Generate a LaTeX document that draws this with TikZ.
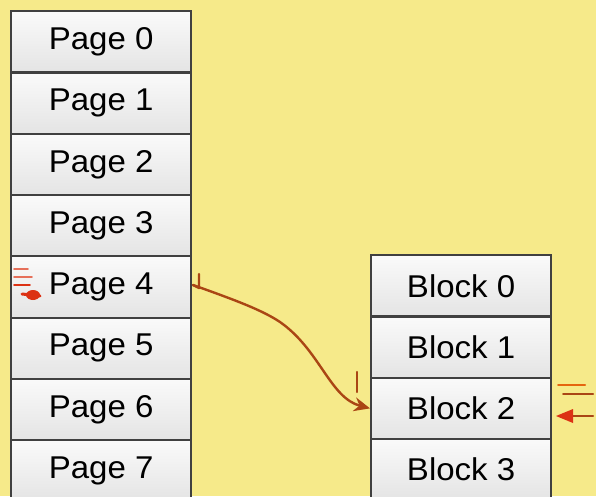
\documentclass[tikz,border=0pt]{standalone}
\usepackage{fontspec}
\setmainfont{Liberation Sans}
\usetikzlibrary{arrows.meta}
\definecolor{bgyellow}{RGB}{246,234,138}
\definecolor{celltop}{RGB}{250,250,250}
\definecolor{cellbot}{RGB}{228,228,228}
\definecolor{scribble}{RGB}{220,50,20}
\definecolor{scribdark}{RGB}{170,70,20}
\tikzset{
  cell/.style={draw=black!75, line width=2.2pt, top color=celltop, bottom color=cellbot, minimum width=180pt, minimum height=61.3pt, inner sep=0pt, anchor=north west,
    font=\fontsize{30}{30}\selectfont},
  pen/.style={draw=scribdark, line width=2.4pt, line cap=round, line join=round},
  redpen/.style={draw=scribble, line width=2.2pt, line cap=round}
}
\begin{document}
\begin{tikzpicture}[x=1pt,y=-1pt]
\useasboundingbox (0,0) rectangle (596,496);
\fill[bgyellow] (0,0) rectangle (596,496);
\foreach \i in {0,...,7}{
  \node[cell] (p\i) at (10,{10+61.3*\i}) {\scalebox{1.1}[1.05]{Page \i}};
}
\foreach \i in {0,...,3}{
  \node[cell] (b\i) at (370,{254+61.3*\i}) {\scalebox{1.1}[1.05]{Block \i}};
}
% scribbles near Page 4
\draw[redpen, line width=1.6pt, draw=scribble!70] (14,269) -- (28,269);
\draw[redpen, line width=1.6pt, draw=scribble!70] (14,277) -- (32,277);
\draw[redpen, line width=1.6pt] (14,285) -- (30,285);
\fill[scribble] (33,295) ellipse (7pt and 5pt);
\draw[redpen, line width=3pt] (22,294) -- (40,296);
% arrow from Page 4 to Block 2
\draw[pen] (199,274) -- (199,288) -- (193,285);
\draw[pen, -{Stealth[length=16pt,width=14pt]}] (193,285) .. controls (235,300) and (262,310) .. (280,322)
  .. controls (320,350) and (330,398) .. (b2.west);
\draw[pen] (357,372) -- (357,392);
% scribbles near Block 2
\draw[redpen, line width=2pt, draw=scribble!75!yellow] (558,385) -- (585,385);
\draw[redpen, line width=2pt, draw=scribdark] (563,394) -- (593,394);
\draw[redpen, line width=2.4pt, draw=scribdark] (570,416) -- (593,416);
\fill[scribble] (556,416) -- (573,409) -- (573,423) -- cycle;
\end{tikzpicture}
\end{document}
